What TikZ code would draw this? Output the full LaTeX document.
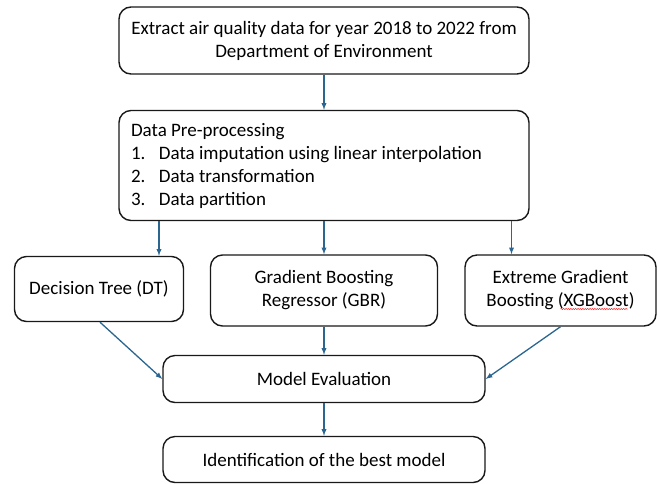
\documentclass[tikz,border=0pt]{standalone}
\usepackage{fontspec}
\setmainfont{Carlito}
\usetikzlibrary{positioning,decorations.pathmorphing}
\definecolor{flowblue}{HTML}{2A6690}

\begin{document}
\begin{tikzpicture}[x=1pt, y=-1pt,
        every node/.style={font=\fontsize{19}{23}\selectfont},
        stepbox/.style={draw=black!90, line width=1.4pt, rounded corners=12pt, align=center, inner sep=0pt},
        flow/.style={draw=flowblue, line width=1.3pt, ->, >=latex},
        squiggle/.style={draw=red!85, line width=0.5pt, decorate, decoration={snake, amplitude=0.6pt, segment length=2.4pt}}]
    \useasboundingbox (0,0) rectangle (660,483);

    \node[stepbox, minimum width=410pt, minimum height=67pt] (extract) at (324,40.5)
        {Extract air quality data for year 2018 to 2022 from\\Department of Environment};
    \node[stepbox, minimum width=410pt, minimum height=110pt, text width=386pt, align=flush left] (prep) at (324,165.5)
        {Data Pre-processing\\
         \makebox[28pt][l]{1.}Data imputation using linear interpolation\\
         \makebox[28pt][l]{2.}Data transformation\\
         \makebox[28pt][l]{3.}Data partition};

    % the three models
    \node[stepbox, minimum width=169pt, minimum height=65pt] (dt) at (99,289) {Decision Tree (DT)};
    \node[stepbox, minimum width=227pt, minimum height=71pt] (gbr) at (324,290.5) {Gradient Boosting\\Regressor (GBR)};
    \node[stepbox, minimum width=191pt, minimum height=71pt] (xgb) at (560.5,290.5) {Extreme Gradient\\Boosting (XGBoost)};
    % spell-check mark under XGBoost
    \draw[squiggle] ([xshift=0pt, yshift=-18.5pt]xgb.center) -- ([xshift=67pt, yshift=-18.5pt]xgb.center);

    \node[stepbox, minimum width=322pt, minimum height=47pt] (eval) at (324,379) {Model Evaluation};
    \node[stepbox, minimum width=322pt, minimum height=46pt] (best) at (324,459.5) {Identification of the best model};

    \draw[flow] (extract) -- (prep);
    \draw[flow] ([xshift=60pt]dt.north |- prep.south) -- ([xshift=60pt]dt.north);
    \draw[flow] (prep.south -| gbr.north) -- (gbr);
    \draw[flow] ([xshift=-49pt]xgb.north |- prep.south) -- ([xshift=-49pt]xgb.north);
    \draw[flow] ([xshift=1pt]dt.south) -- (eval.west);
    \draw[flow] (gbr) -- (eval);
    \draw[flow] (xgb.south) -- (eval.east);
    \draw[flow] (eval) -- (best);
\end{tikzpicture}
\end{document}
